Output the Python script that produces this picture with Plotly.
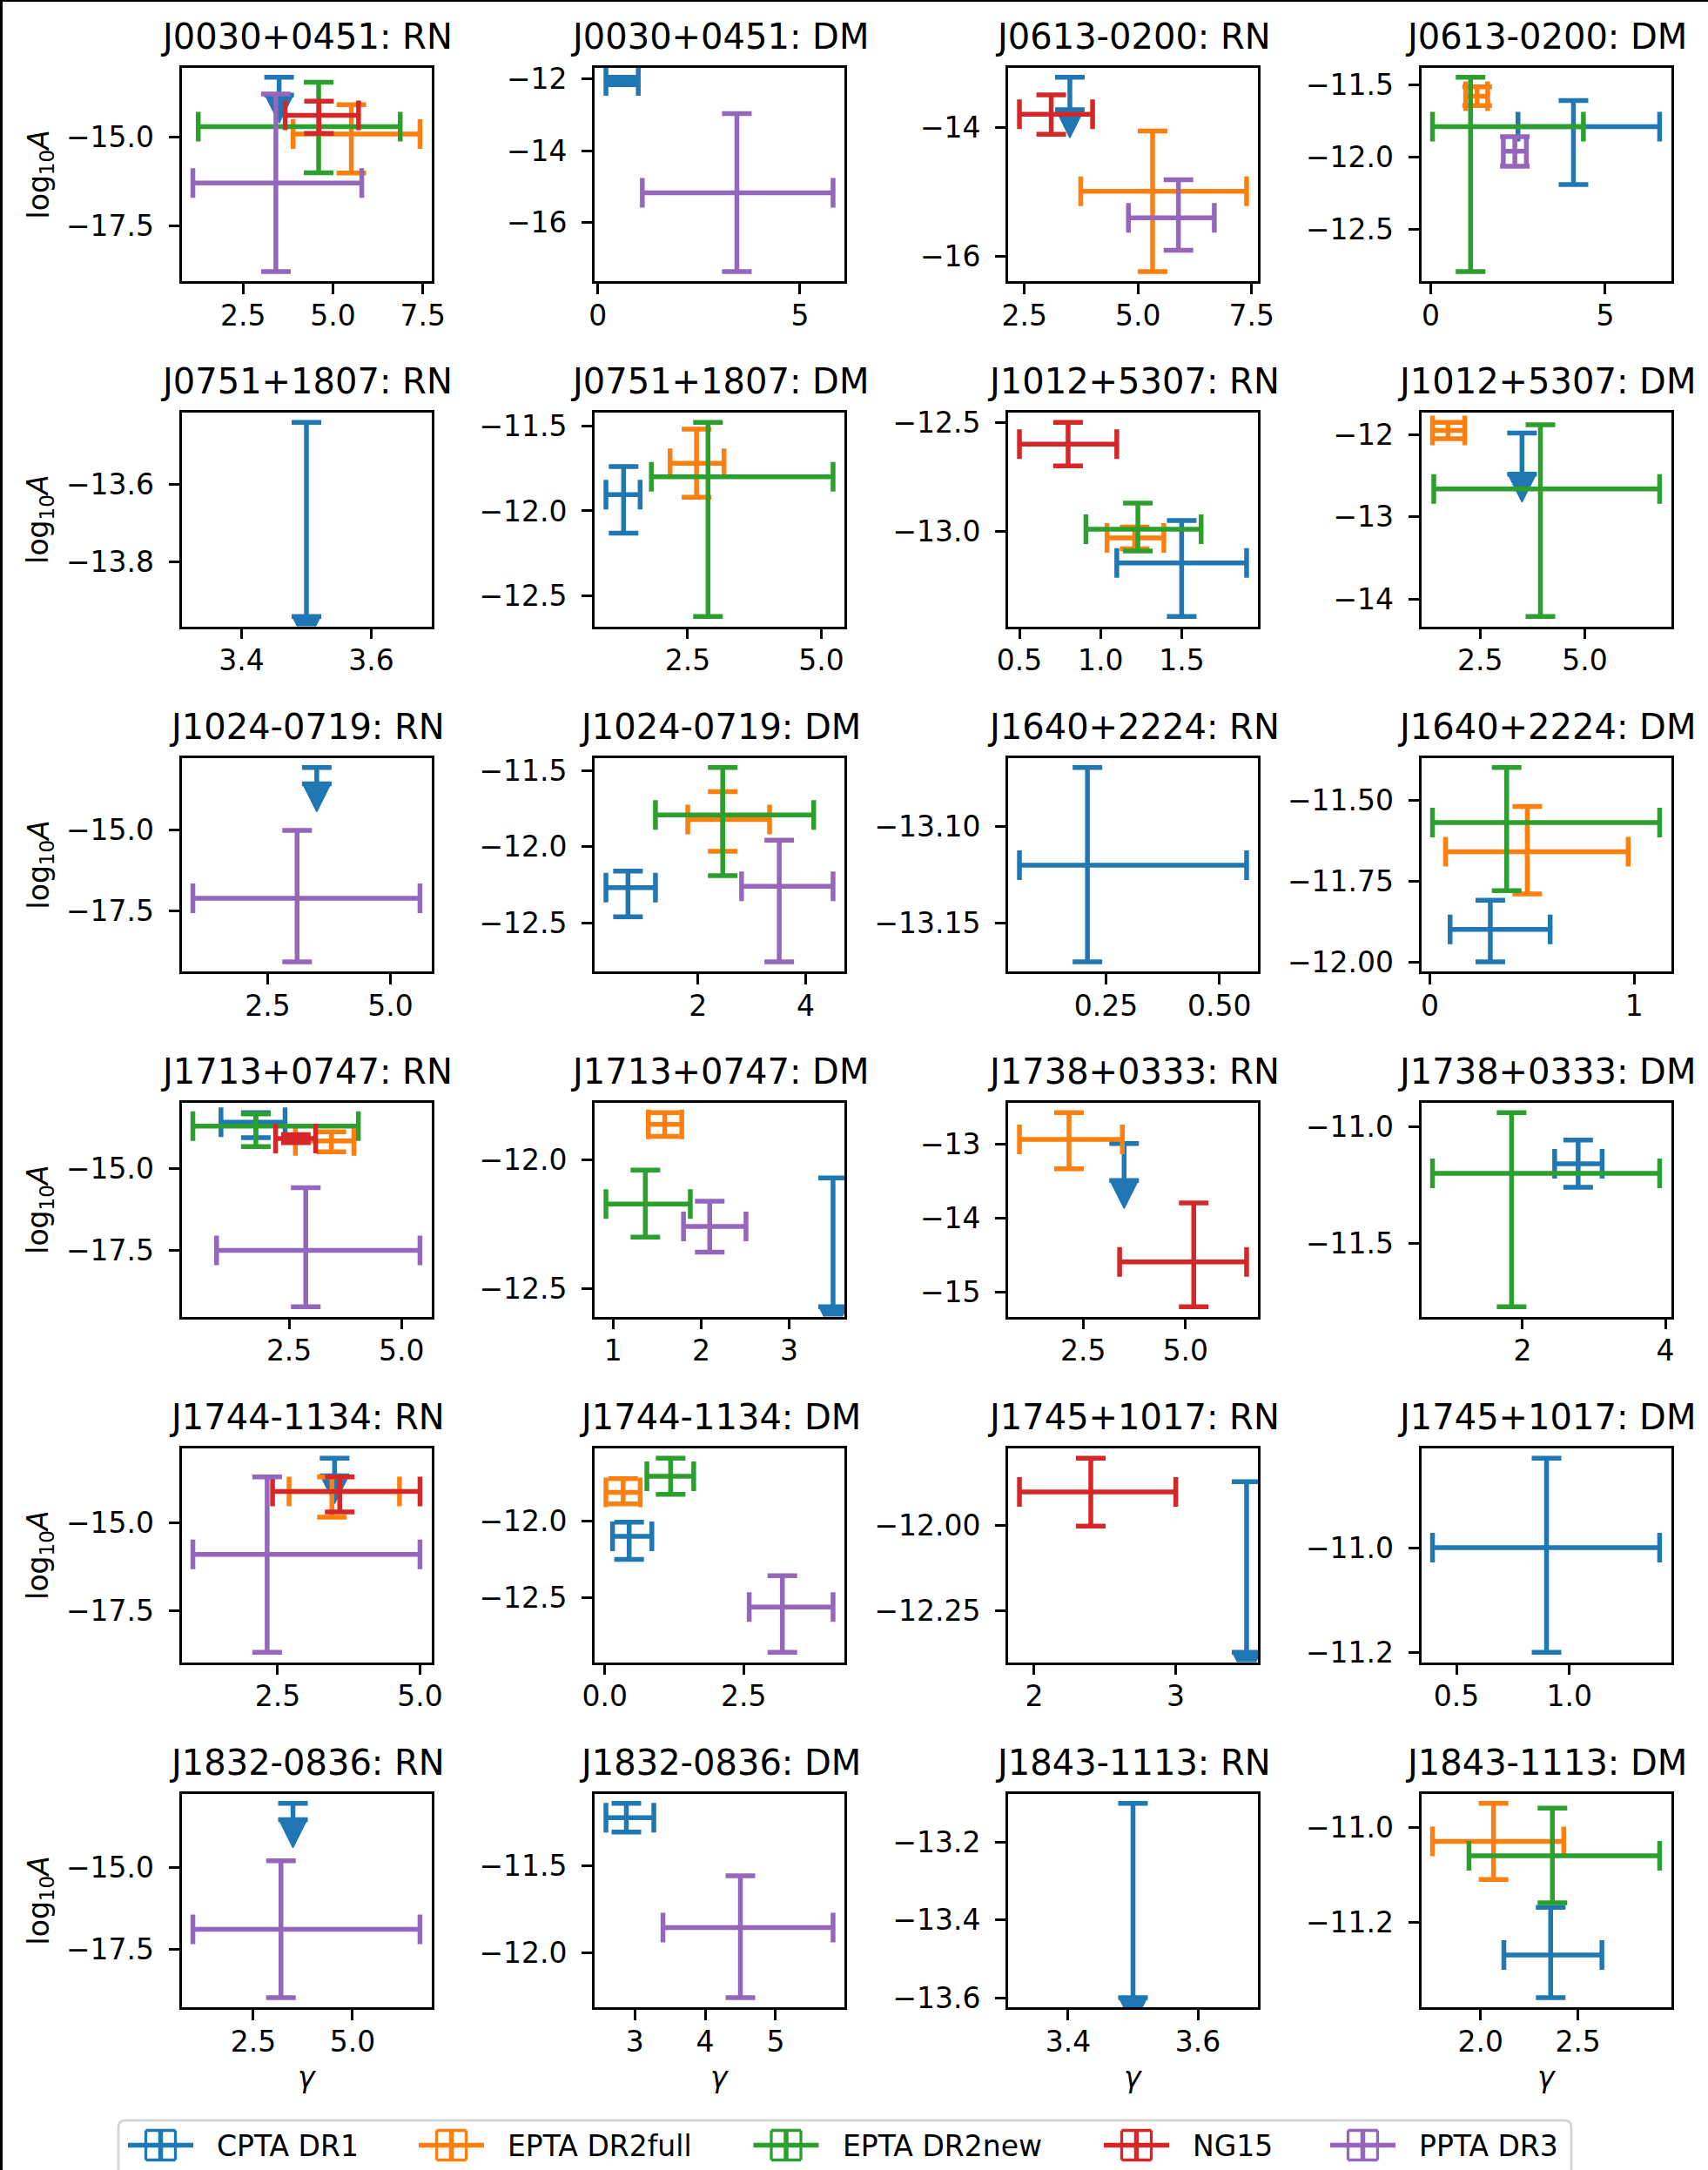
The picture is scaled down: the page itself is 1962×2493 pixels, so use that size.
import plotly.graph_objects as go

# ---------------------------------------------------------------- data ----
PTAS = ["CPTA DR1", "EPTA DR2full", "EPTA DR2new", "NG15", "PPTA DR3"]
PTA_COLORS = ["#1f77b4", "#ff7f0e", "#2ca02c", "#d62728", "#9467bd"]

PULSARS = ["J0030+0451", "J0613-0200", "J0751+1807", "J1012+5307",
           "J1024-0719", "J1640+2224", "J1713+0747", "J1738+0333",
           "J1744-1134", "J1745+1017", "J1832-0836", "J1843-1113"]
NOISE = ["RN", "DM"]

# rows: (PTA index, gamma, gamma_lo, gamma_hi, log10A, log10A_lo, log10A_hi)
J0030_RN = [(1, 5.51, 3.89, 7.42, -14.92, -16.02, -14.09),
            (2, 4.60, 1.25, 6.87, -14.71, -16.01, -13.46),
            (3, 4.61, 3.67, 5.71, -14.39, -14.90, -13.99),
            (4, 3.41, 1.10, 5.80, -16.30, -18.80, -13.79)]
J0030_DM = [(0, 0.60, 0.20, 1.00, -12.06, -12.16, -11.96),
            (4, 3.44, 1.10, 5.82, -15.17, -17.36, -12.97)]
J0613_RN = [(1, 5.32, 3.74, 7.39, -14.99, -16.23, -14.06),
            (3, 3.09, 2.39, 4.00, -13.80, -14.11, -13.50),
            (4, 5.89, 4.79, 6.68, -15.40, -15.90, -14.81)]
J0613_DM = [(0, 4.09, 2.50, 6.56, -11.79, -12.19, -11.61),
            (1, 1.33, 1.00, 1.63, -11.58, -11.645, -11.515),
            (2, 1.14, 0.05, 4.375, -11.79, -12.79, -11.45),
            (4, 2.41, 2.08, 2.74, -11.96, -12.064, -11.859)]
J0751_RN = []
J0751_DM = [(0, 1.30, 0.97, 1.61, -11.905, -12.13, -11.74),
            (1, 2.665, 2.17, 3.18, -11.72, -11.92, -11.52),
            (2, 2.88, 1.82, 5.22, -11.80, -12.62, -11.48)]
J1012_RN = [(0, 1.50, 1.10, 1.90, -13.144, -13.39, -12.95),
            (1, 1.21, 1.04, 1.39, -13.03, -13.08, -12.98),
            (2, 1.23, 0.91, 1.62, -12.99, -13.09, -12.87),
            (3, 0.80, 0.50, 1.10, -12.60, -12.70, -12.50)]
J1012_DM = [(1, 1.73, 1.36, 2.13, -11.95, -12.05, -11.85),
            (2, 3.94, 1.39, 6.79, -12.66, -14.21, -11.88)]
J1024_RN = [(4, 3.10, 0.98, 5.60, -17.115, -19.09, -15.01)]
J1024_DM = [(0, 0.70, 0.29, 1.21, -12.268, -12.46, -12.16),
            (1, 2.46, 1.81, 3.33, -11.82, -12.03, -11.637),
            (2, 2.46, 1.21, 4.15, -11.79, -12.19, -11.479),
            (4, 3.51, 2.81, 4.51, -12.26, -12.757, -11.956)]
J1640_RN = [(0, 0.209, 0.059, 0.560, -13.12, -13.170, -13.0696)]
J1640_DM = [(0, 0.296, 0.099, 0.589, -11.90, -12.00, -11.81),
            (1, 0.477, 0.077, 0.971, -11.66, -11.79, -11.52),
            (2, 0.376, 0.013, 1.125, -11.57, -11.78, -11.40)]
J1713_RN = [(0, 1.76, 0.985, 2.41, -13.60, -14.07, -13.31),
            (1, 3.44, 2.64, 3.94, -14.17, -14.50, -13.89),
            (2, 1.76, 0.36, 4.04, -13.72, -14.34, -13.35),
            (3, 2.65, 2.20, 3.09, -14.10, -14.22, -13.98),
            (4, 2.87, 0.887, 5.41, -17.49, -19.20, -15.59)]
J1713_DM = [(1, 1.587, 1.40, 1.78, -11.861, -11.907, -11.815),
            (2, 1.366, 0.918, 1.877, -12.170, -12.298, -12.038),
            (4, 2.098, 1.80, 2.51, -12.257, -12.357, -12.159)]
J1738_RN = [(1, 2.154, 0.944, 3.457, -12.933, -13.333, -12.569),
            (3, 5.20, 3.39, 6.49, -14.596, -15.204, -13.796)]
J1738_DM = [(0, 2.779, 2.45, 3.115, -11.158, -11.259, -11.056),
            (2, 1.847, 0.74, 3.92, -11.199, -11.772, -10.938)]
J1744_RN = [(1, 3.453, 2.70, 4.64, -14.11, -14.84, -13.70),
            (3, 3.59, 2.41, 5.00, -14.11, -14.69, -13.70),
            (4, 2.315, 1.01, 5.00, -15.896, -18.67, -13.70)]
J1744_DM = [(0, 0.438, 0.139, 0.847, -12.10, -12.25, -12.009),
            (1, 0.33, 0.02, 0.637, -11.814, -11.89, -11.726),
            (2, 1.185, 0.757, 1.60, -11.71, -11.827, -11.592),
            (4, 3.197, 2.60, 4.11, -12.56, -12.855, -12.357)]
J1745_RN = [(3, 2.40, 1.896, 3.00, -11.902, -12.002, -11.803)]
J1745_DM = [(0, 0.899, 0.394, 1.40, -11.0, -11.2, -10.829)]
J1832_RN = [(4, 3.198, 0.978, 6.70, -16.897, -18.998, -14.787)]
J1832_DM = [(0, 2.88, 2.59, 3.27, -11.223, -11.305, -11.141),
            (4, 4.50, 3.40, 5.816, -11.854, -12.256, -11.556)]
J1843_RN = []
J1843_DM = [(0, 2.36, 2.12, 2.623, -11.269, -11.359, -11.169),
            (1, 2.067, 1.754, 2.427, -11.030, -11.11, -10.95),
            (2, 2.369, 1.941, 2.919, -11.06, -11.159, -10.96)]

PANEL_POINTS = [J0030_RN, J0030_DM, J0613_RN, J0613_DM,
                J0751_RN, J0751_DM, J1012_RN, J1012_DM,
                J1024_RN, J1024_DM, J1640_RN, J1640_DM,
                J1713_RN, J1713_DM, J1738_RN, J1738_DM,
                J1744_RN, J1744_DM, J1745_RN, J1745_DM,
                J1832_RN, J1832_DM, J1843_RN, J1843_DM]

# CPTA DR1 upper limits on log10A (at fixed gamma), one entry per panel
UL_GAMMA = 3.5
UL_DEPTH = 0.5
CPTA_UPPER_LIMITS = [-13.32, None, -13.23, None,
                     -13.44, None, None, -11.98,
                     -13.065, None, None, None,
                     None, -12.069, -12.99, None,
                     -13.166, None, -11.872, None,
                     -13.023, None, -13.10, None]

X_TICK_LABELS = [["2.5", "5.0", "7.5"], ["0", "5"], ["2.5", "5.0", "7.5"], ["0", "5"],
                 ["3.4", "3.6"], ["2.5", "5.0"], ["0.5", "1.0", "1.5"], ["2.5", "5.0"],
                 ["2.5", "5.0"], ["2", "4"], ["0.25", "0.50"], ["0", "1"],
                 ["2.5", "5.0"], ["1", "2", "3"], ["2.5", "5.0"], ["2", "4"],
                 ["2.5", "5.0"], ["0.0", "2.5"], ["2", "3"], ["0.5", "1.0"],
                 ["2.5", "5.0"], ["3", "4", "5"], ["3.4", "3.6"], ["2.0", "2.5"]]
Y_TICK_LABELS = [["-15.0", "-17.5"], ["-12", "-14", "-16"], ["-14", "-16"], ["-11.5", "-12.0", "-12.5"],
                 ["-13.6", "-13.8"], ["-11.5", "-12.0", "-12.5"], ["-12.5", "-13.0"], ["-12", "-13", "-14"],
                 ["-15.0", "-17.5"], ["-11.5", "-12.0", "-12.5"], ["-13.10", "-13.15"], ["-11.50", "-11.75", "-12.00"],
                 ["-15.0", "-17.5"], ["-12.0", "-12.5"], ["-13", "-14", "-15"], ["-11.0", "-11.5"],
                 ["-15.0", "-17.5"], ["-12.0", "-12.5"], ["-12.00", "-12.25"], ["-11.0", "-11.2"],
                 ["-15.0", "-17.5"], ["-11.5", "-12.0"], ["-13.2", "-13.4", "-13.6"], ["-11.0", "-11.2"]]

# -------------------------------------------------------------- layout ----
W, H = 1962, 2493
COL_LEFT = [208.5, 683.0, 1158.0, 1632.5]
ROW_TOP = [77.7, 474.0, 870.7, 1267.0, 1664.0, 2060.7]
AX_W, AX_H = 287.0, 245.5
FONT = "DejaVu Sans"
TICK_SIZE = 33
TITLE_SIZE = 40
BAR_W = 5.5
CAP_HALF = 17
ARROW_PX = 32

LEGEND_BOX = (136, 2436, 1805, 2503)
LEGEND_CENTERS = [184.5, 518.5, 903.0, 1305.5, 1565.5]
LEGEND_Y = 2464.5


def px_x(v):
    return v / W


def px_y(v):
    return 1 - v / H


def mpl_limits(lo, hi, margin=0.05):
    """Autoscale like matplotlib: expand a singular span, then add margins."""
    if abs(hi - lo) < 1e-12:
        lo, hi = lo - 0.05 * abs(lo), hi + 0.05 * abs(hi)
    d = (hi - lo) * margin
    return [lo - d, hi + d]


def minus(s):
    return s.replace("-", "\u2212")


fig = go.Figure()
annotations = []
shapes = []
layout_axes = {}

for k in range(24):
    row, col = divmod(k, 4)
    n = k + 1
    sfx = "" if n == 1 else str(n)
    left, top = COL_LEFT[col], ROW_TOP[row]
    pts = sorted(PANEL_POINTS[k], key=lambda r: r[0])
    ul = CPTA_UPPER_LIMITS[k]

    xs_lo = [p[2] for p in pts]
    xs_hi = [p[3] for p in pts]
    ys_lo = [p[5] for p in pts]
    ys_hi = [p[6] for p in pts]
    if ul is not None:
        xs_lo.append(UL_GAMMA)
        xs_hi.append(UL_GAMMA)
        ys_lo.append(ul - UL_DEPTH)
        ys_hi.append(ul)
    xr = mpl_limits(min(xs_lo), max(xs_hi))
    yr = mpl_limits(min(ys_lo), max(ys_hi))

    xa, ya = "x" + sfx, "y" + sfx

    # CPTA upper limit: bar with a cap at the limit and a caret below
    if ul is not None:
        c = PTA_COLORS[0]
        fig.add_trace(go.Scatter(
            x=[UL_GAMMA], y=[ul], mode="markers", xaxis=xa, yaxis=ya,
            marker=dict(size=1, color="rgba(0,0,0,0)"),
            error_y=dict(type="data", symmetric=False, array=[0], arrayminus=[UL_DEPTH],
                         color=c, thickness=BAR_W, width=CAP_HALF),
            showlegend=False, hoverinfo="skip"))
        dpp = (yr[1] - yr[0]) / AX_H
        fig.add_trace(go.Scatter(
            x=[UL_GAMMA], y=[ul - UL_DEPTH - ARROW_PX * dpp], mode="markers",
            xaxis=xa, yaxis=ya,
            marker=dict(symbol="arrow-down", size=ARROW_PX, color=c,
                        line=dict(width=1.5, color=c)),
            showlegend=False, hoverinfo="skip"))

    for (pi, g, glo, ghi, a, alo, ahi) in pts:
        c = PTA_COLORS[pi]
        fig.add_trace(go.Scatter(
            x=[g], y=[a], mode="markers", xaxis=xa, yaxis=ya,
            marker=dict(size=1, color="rgba(0,0,0,0)"),
            error_x=dict(type="data", symmetric=False, array=[ghi - g], arrayminus=[g - glo],
                         color=c, thickness=BAR_W, width=CAP_HALF),
            error_y=dict(type="data", symmetric=False, array=[ahi - a], arrayminus=[a - alo],
                         color=c, thickness=BAR_W, width=CAP_HALF),
            showlegend=False, hoverinfo="skip", name=PTAS[pi]))

    xt = X_TICK_LABELS[k]
    yt = Y_TICK_LABELS[k]
    common = dict(showgrid=False, zeroline=False, showline=True, linecolor="black",
                  linewidth=2.7, mirror=True, ticks="outside", ticklen=12, tickwidth=2.7,
                  tickcolor="black", tickfont=dict(family=FONT, size=TICK_SIZE, color="black"))
    layout_axes["xaxis" + sfx] = dict(
        common, domain=[px_x(left), px_x(left + AX_W)], range=xr, anchor=ya,
        tickvals=[float(t) for t in xt], ticktext=[minus(t) for t in xt],
        ticklabelstandoff=-4)
    layout_axes["yaxis" + sfx] = dict(
        common, domain=[px_y(top + AX_H), px_y(top)], range=yr, anchor=xa,
        tickvals=[float(t) for t in yt], ticktext=[minus(t) for t in yt],
        ticklabelstandoff=10)

    title = PULSARS[k // 2] + ": " + NOISE[k % 2]
    annotations.append(dict(
        text=title, x=px_x(left + AX_W / 2), y=px_y(top - 36), xref="paper", yref="paper",
        xanchor="center", yanchor="middle", showarrow=False,
        font=dict(family=FONT, size=TITLE_SIZE, color="black")))

    if col == 0:
        annotations.append(dict(
            text="log<sub>10</sub><i>A</i>", x=px_x(46), y=px_y(top + AX_H / 2),
            xref="paper", yref="paper", xanchor="center", yanchor="middle",
            textangle=-90, showarrow=False,
            font=dict(family=FONT, size=TICK_SIZE, color="black")))
    if row == 5:
        annotations.append(dict(
            text="<i>\u03b3</i>", x=px_x(left + AX_W / 2), y=px_y(2386),
            xref="paper", yref="paper", xanchor="center", yanchor="middle",
            showarrow=False, font=dict(family=FONT, size=TICK_SIZE, color="black")))

# legend frame with rounded top corners
x0, y0, x1, y1 = LEGEND_BOX
r = 8
path = (f"M {px_x(x0)},{px_y(y1)} L {px_x(x0)},{px_y(y0 + r)} "
        f"Q {px_x(x0)},{px_y(y0)} {px_x(x0 + r)},{px_y(y0)} "
        f"L {px_x(x1 - r)},{px_y(y0)} Q {px_x(x1)},{px_y(y0)} {px_x(x1)},{px_y(y0 + r)} "
        f"L {px_x(x1)},{px_y(y1)}")
shapes.append(dict(type="path", path=path, xref="paper", yref="paper",
                   line=dict(color="#d3d3d3", width=2.7), fillcolor="white", layer="above"))

# legend glyphs: an error-bar cross for each PTA
for i, name in enumerate(PTAS):
    c = PTA_COLORS[i]
    cx, cy = LEGEND_CENTERS[i], LEGEND_Y
    segs = [
        (cx - 37.5, cy, cx + 37.5, cy, BAR_W),
        (cx, cy - CAP_HALF, cx, cy + CAP_HALF, BAR_W),
        (cx - CAP_HALF, cy - CAP_HALF, cx - CAP_HALF, cy + CAP_HALF, 3.3),
        (cx + CAP_HALF, cy - CAP_HALF, cx + CAP_HALF, cy + CAP_HALF, 3.3),
        (cx - CAP_HALF, cy - CAP_HALF, cx + CAP_HALF, cy - CAP_HALF, 3.3),
        (cx - CAP_HALF, cy + CAP_HALF, cx + CAP_HALF, cy + CAP_HALF, 3.3),
    ]
    for (ax0, ay0, ax1, ay1, lw) in segs:
        shapes.append(dict(type="line", xref="paper", yref="paper",
                           x0=px_x(ax0), y0=px_y(ay0), x1=px_x(ax1), y1=px_y(ay1),
                           line=dict(color=c, width=lw), layer="above"))
    annotations.append(dict(
        text=name, x=px_x(cx + 62.5), y=px_y(LEGEND_Y + 1), xref="paper", yref="paper",
        xanchor="left", yanchor="middle", showarrow=False,
        font=dict(family=FONT, size=TICK_SIZE, color="black")))

# outer frame edges
shapes.append(dict(type="line", xref="paper", yref="paper", x0=px_x(1.5), y0=0,
                   x1=px_x(1.5), y1=1, line=dict(color="black", width=3)))
shapes.append(dict(type="line", xref="paper", yref="paper", x0=0, y0=px_y(1),
                   x1=1, y1=px_y(1), line=dict(color="black", width=2)))

fig.update_layout(
    width=W, height=H, margin=dict(l=0, r=0, t=0, b=0, autoexpand=False),
    paper_bgcolor="white", plot_bgcolor="white", showlegend=False,
    annotations=annotations, shapes=shapes, **layout_axes)

fig.write_html("out.html")
